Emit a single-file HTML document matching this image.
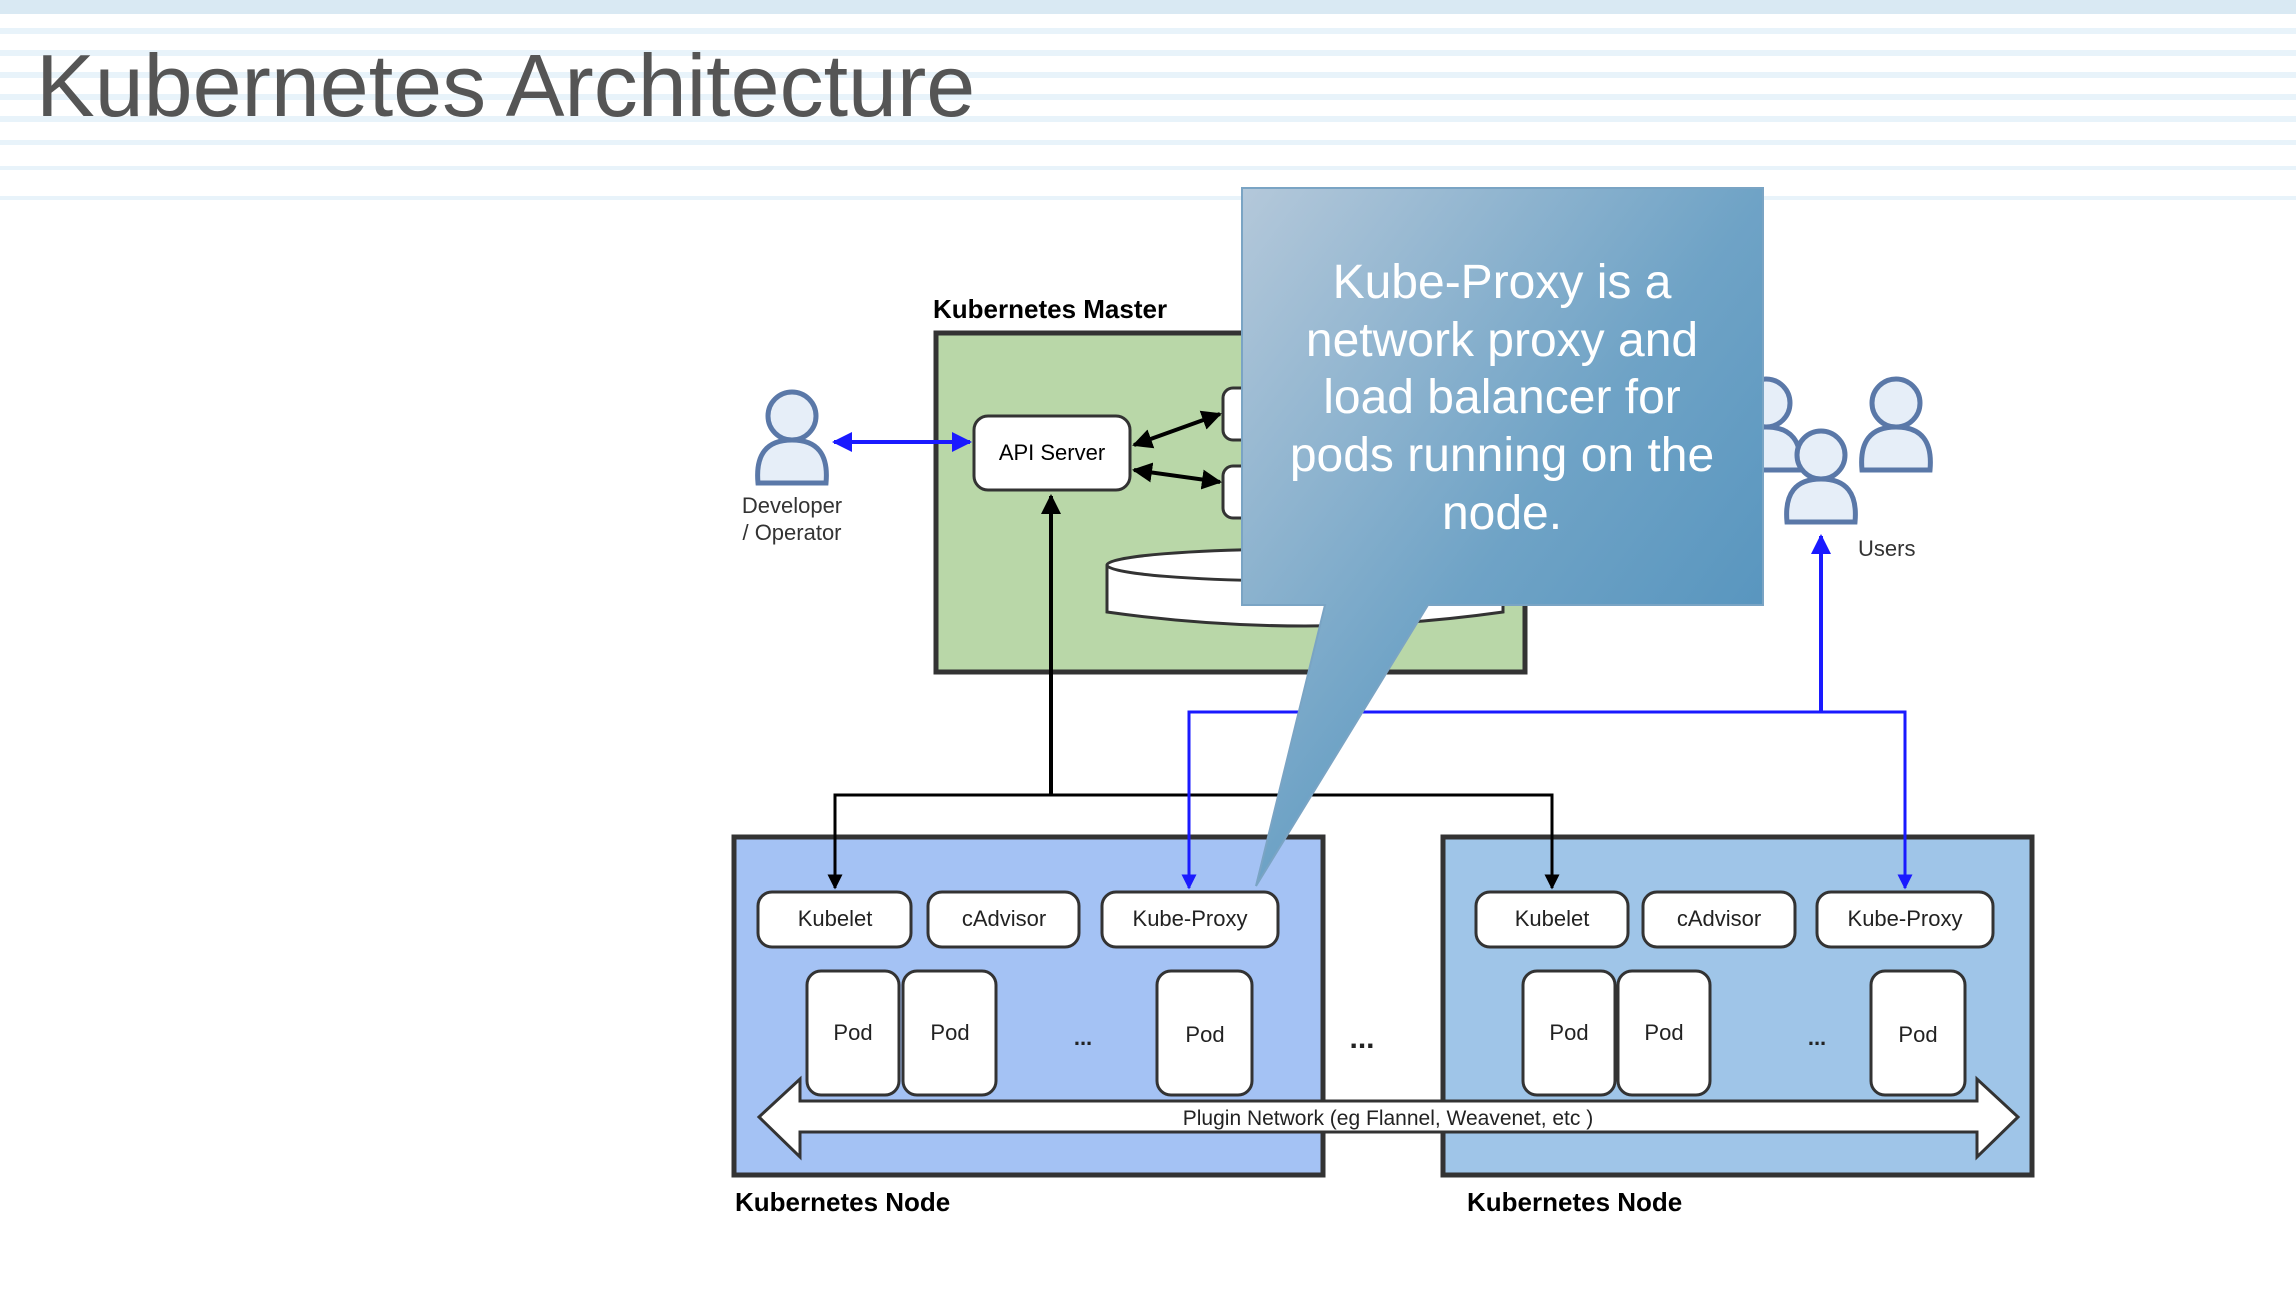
<!DOCTYPE html>
<html><head><meta charset="utf-8"><style>
html,body{margin:0;padding:0;background:#fff;}
svg{display:block;}
text{font-family:"Liberation Sans",sans-serif;}
</style></head><body>
<svg width="2296" height="1300" viewBox="0 0 2296 1300" xmlns="http://www.w3.org/2000/svg">
<defs>
<linearGradient id="cg" x1="0" y1="0" x2="1" y2="1">
<stop offset="0" stop-color="#b4c8da"/><stop offset="0.5" stop-color="#6fa3c6"/><stop offset="1" stop-color="#4a8dba"/>
</linearGradient>
<marker id="ab" viewBox="0 0 10 10" refX="9" refY="5" markerWidth="5" markerHeight="5" orient="auto-start-reverse"><path d="M0,0L10,5L0,10z" fill="#000"/></marker>
<marker id="abl" viewBox="0 0 10 10" refX="9" refY="5" markerWidth="5" markerHeight="5" orient="auto-start-reverse"><path d="M0,0L10,5L0,10z" fill="#1a1aff"/></marker>
<g id="user"><circle cx="0" cy="-22" r="24" fill="#e6eef8" stroke="#5a78a8" stroke-width="5"/><path d="M-34,45 Q-38,2 0,2 Q38,2 34,45 Z" fill="#e6eef8" stroke="#5a78a8" stroke-width="5"/></g>
</defs>
<g fill="#e8f3fa">
<rect x="0" y="0" width="2296" height="14" fill="#d9e9f3"/>
<rect x="0" y="28" width="2296" height="6"/><rect x="0" y="50" width="2296" height="6"/><rect x="0" y="72" width="2296" height="6"/>
<rect x="0" y="94" width="2296" height="6"/><rect x="0" y="116" width="2296" height="6"/><rect x="0" y="140" width="2296" height="5"/>
<rect x="0" y="166" width="2296" height="4"/><rect x="0" y="196" width="2296" height="4"/>
</g>
<text x="36" y="116" font-size="88" fill="#555">Kubernetes Architecture</text>

<text x="933" y="318" font-size="26" font-weight="bold">Kubernetes Master</text>
<rect x="936" y="333" width="589" height="339" fill="#b9d7a8" stroke="#333" stroke-width="5"/>
<rect x="1223" y="388" width="40" height="52" rx="10" fill="#fff" stroke="#333" stroke-width="3"/>
<rect x="1223" y="466" width="40" height="52" rx="10" fill="#fff" stroke="#333" stroke-width="3"/>
<path d="M1107,565 L1107,612 Q1305,640 1503,612 L1503,565" fill="#fff" stroke="#333" stroke-width="3"/>
<ellipse cx="1305" cy="565" rx="198" ry="16" fill="#fff" stroke="#333" stroke-width="3"/>
<rect x="974" y="416" width="156" height="74" rx="14" fill="#fff" stroke="#333" stroke-width="3"/>
<text x="1052" y="460" font-size="22" text-anchor="middle">API Server</text>
<line x1="1134" y1="445" x2="1220" y2="414" stroke="#000" stroke-width="4" marker-start="url(#ab)" marker-end="url(#ab)"/>
<line x1="1134" y1="470" x2="1220" y2="482" stroke="#000" stroke-width="4" marker-start="url(#ab)" marker-end="url(#ab)"/>

<use href="#user" x="792" y="438"/>
<text x="792" y="513" font-size="22" text-anchor="middle" fill="#333">Developer</text>
<text x="792" y="540" font-size="22" text-anchor="middle" fill="#333">/ Operator</text>
<line x1="834" y1="442" x2="970" y2="442" stroke="#1a1aff" stroke-width="4" marker-start="url(#abl)" marker-end="url(#abl)"/>

<use href="#user" x="1766" y="425"/>
<use href="#user" x="1896" y="425"/>
<use href="#user" x="1821" y="477"/>
<text x="1858" y="556" font-size="22" fill="#333">Users</text>

<rect x="734" y="837" width="589" height="338" fill="#a4c2f4" stroke="#333" stroke-width="5"/>
<rect x="1443" y="837" width="589" height="338" fill="#9fc5e8" stroke="#333" stroke-width="5"/>

<polyline points="1051,496 1051,795" fill="none" stroke="#000" stroke-width="4" marker-start="url(#ab)"/>
<polyline points="835,888 835,795 1552,795 1552,888" fill="none" stroke="#000" stroke-width="3" marker-start="url(#ab)" marker-end="url(#ab)"/>
<polyline points="1821,712 1821,536" fill="none" stroke="#1a1aff" stroke-width="4" marker-end="url(#abl)"/>
<polyline points="1189,888 1189,712 1905,712 1905,888" fill="none" stroke="#1a1aff" stroke-width="3" marker-start="url(#abl)" marker-end="url(#abl)"/>

<g fill="#fff" stroke="#333" stroke-width="3">
<rect x="758" y="892" width="153" height="55" rx="14"/><rect x="928" y="892" width="151" height="55" rx="14"/><rect x="1102" y="892" width="176" height="55" rx="14"/>
<rect x="1476" y="892" width="152" height="55" rx="14"/><rect x="1643" y="892" width="152" height="55" rx="14"/><rect x="1817" y="892" width="176" height="55" rx="14"/>
<rect x="807" y="971" width="92" height="124" rx="14"/><rect x="903" y="971" width="93" height="124" rx="14"/><rect x="1157" y="971" width="95" height="124" rx="14"/>
<rect x="1523" y="971" width="92" height="124" rx="14"/><rect x="1618" y="971" width="92" height="124" rx="14"/><rect x="1871" y="971" width="94" height="124" rx="14"/>
</g>
<g font-size="22" text-anchor="middle" fill="#222">
<text x="835" y="926">Kubelet</text><text x="1004" y="926">cAdvisor</text><text x="1190" y="926">Kube-Proxy</text>
<text x="1552" y="926">Kubelet</text><text x="1719" y="926">cAdvisor</text><text x="1905" y="926">Kube-Proxy</text>
<text x="853" y="1040">Pod</text><text x="950" y="1040">Pod</text><text x="1205" y="1042">Pod</text>
<text x="1569" y="1040">Pod</text><text x="1664" y="1040">Pod</text><text x="1918" y="1042">Pod</text>
<text x="1083" y="1045" font-weight="bold">...</text><text x="1817" y="1045" font-weight="bold">...</text>
<text x="1362" y="1048" font-weight="bold" font-size="30">...</text>
</g>
<path d="M759,1117 L800,1079 L800,1101 L1977,1101 L1977,1079 L2018,1117 L1977,1157 L1977,1132 L800,1132 L800,1157 Z" fill="#fff" stroke="#333" stroke-width="3"/>
<text x="1388" y="1125" font-size="21" text-anchor="middle" fill="#222">Plugin Network (eg Flannel, Weavenet, etc )</text>
<text x="735" y="1211" font-size="26" font-weight="bold">Kubernetes Node</text>
<text x="1467" y="1211" font-size="26" font-weight="bold">Kubernetes Node</text>

<path d="M1242,188 L1763,188 L1763,605 L1428,605 L1256,886 L1325,605 L1242,605 Z" fill="url(#cg)" stroke="#7aa4c4" stroke-width="2"/>
<g font-size="48" fill="#fff" text-anchor="middle">
<text x="1502" y="298">Kube-Proxy is a</text>
<text x="1502" y="356">network proxy and</text>
<text x="1502" y="413">load balancer for</text>
<text x="1502" y="471">pods running on the</text>
<text x="1502" y="529">node.</text>
</g>
</svg>
</body></html>
